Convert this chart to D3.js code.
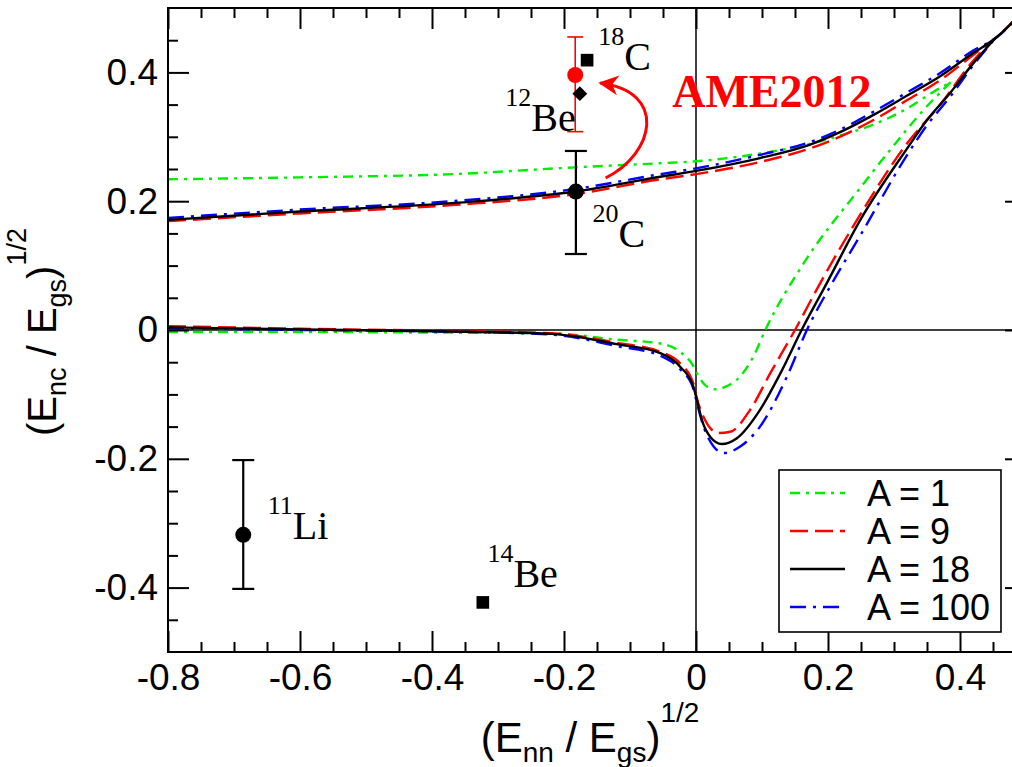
<!DOCTYPE html>
<html>
<head>
<meta charset="utf-8">
<script src="https://cdn.jsdelivr.net/npm/d3@7"></script>
<style>
  body { margin: 0; background: #fff; }
  text { font-family: "Liberation Sans", Arial, Helvetica, sans-serif; }
  .serif { font-family: "Liberation Serif", "Times New Roman", serif; }
</style>
</head>
<body>
<svg id="chart" width="1012" height="767"></svg>
<script>
// ---- values ----
const xTicks = [-0.8, -0.6, -0.4, -0.2, 0, 0.2, 0.4];
const xTickLabels = ['-0.8', '-0.6', '-0.4', '-0.2', '0', '0.2', '0.4'];
const yTicks = [-0.4, -0.2, 0, 0.2, 0.4];
const yTickLabels = ['-0.4', '-0.2', '0', '0.2', '0.4'];

const seriesNames = ['A = 1', 'A = 9', 'A = 18', 'A = 100'];

// upper branches, [x, y]
const upperA1 = [[-0.8,0.234],[-0.6,0.237],[-0.37,0.242],[-0.183,0.2526],[-0.054,0.259],[0,0.262],
  [0.097,0.274],[0.173,0.289],[0.2186,0.302],[0.269,0.319],[0.32,0.344],[0.36,0.37],[0.386,0.385]];
const upperA9 = [[-0.8,0.169],[-0.6,0.181],[-0.37,0.194],[-0.183,0.211],[-0.054,0.234],[0,0.242],
  [0.097,0.261],[0.173,0.282],[0.22,0.301],[0.269,0.326],[0.32,0.357],[0.37,0.388],[0.42,0.427],[0.4535,0.453],[0.5,0.5]];
const upperA18 = [[-0.8,0.171],[-0.6,0.184],[-0.37,0.197],[-0.183,0.215],[-0.054,0.238],[0,0.247],
  [0.097,0.267],[0.173,0.288],[0.22,0.308],[0.269,0.334],[0.32,0.364],[0.37,0.394],[0.42,0.43],[0.4535,0.453],[0.5,0.5]];
const upperA100 = [[-0.8,0.174],[-0.6,0.187],[-0.37,0.200],[-0.183,0.219],[-0.054,0.242],[0,0.251],
  [0.097,0.272],[0.173,0.292],[0.22,0.312],[0.269,0.339],[0.32,0.369],[0.37,0.399],[0.42,0.434],[0.4535,0.453],[0.5,0.5]];

// lower branches, [x, y]
const lowerA1 = [[-0.8,-0.003],[-0.6,-0.003],[-0.4,-0.004],[-0.22,-0.005],[-0.12,-0.015],[-0.054,-0.021],
  [-0.024,-0.034],[-0.004,-0.056],[0.0015,-0.067],[0.0115,-0.083],[0.0217,-0.0905],[0.029,-0.092],[0.045,-0.088],
  [0.067,-0.072],[0.087,-0.041],[0.105,0],[0.163,0.1035],[0.246,0.217],[0.30,0.287],[0.345,0.342],[0.386,0.385]];
const lowerA9 = [[-0.8,0.006],[-0.6,0.002],[-0.4,-0.001],[-0.22,-0.005],[-0.12,-0.02],[-0.054,-0.034],
  [-0.024,-0.052],[-0.004,-0.083],[0.0015,-0.107],[0.0115,-0.135],[0.034,-0.160],[0.052,-0.158],[0.082,-0.124],
  [0.1126,-0.067],[0.150,0],[0.188,0.0725],[0.244,0.171],[0.32,0.29],[0.37,0.35],[0.42,0.418],[0.4535,0.453]];
const lowerA18 = [[-0.8,0.004],[-0.6,0.001],[-0.4,-0.002],[-0.22,-0.006],[-0.12,-0.022],[-0.054,-0.036],
  [-0.024,-0.057],[-0.004,-0.088],[0.0015,-0.109],[0.009,-0.14],[0.0217,-0.166],[0.039,-0.177],[0.062,-0.168],
  [0.097,-0.124],[0.128,-0.067],[0.16,0],[0.198,0.0725],[0.249,0.171],[0.32,0.282],[0.35,0.326],[0.385,0.368],
  [0.42,0.414],[0.4535,0.453]];
const lowerA100 = [[-0.8,0.003],[-0.6,0.0],[-0.4,-0.002],[-0.22,-0.007],[-0.12,-0.025],[-0.054,-0.040],
  [-0.024,-0.061],[-0.004,-0.091],[0.0015,-0.114],[0.0115,-0.150],[0.0267,-0.181],[0.042,-0.191],[0.067,-0.181],
  [0.097,-0.150],[0.138,-0.072],[0.168,0],[0.206,0.0725],[0.249,0.147],[0.32,0.272],[0.35,0.318],[0.385,0.362],
  [0.42,0.411],[0.4535,0.453]];

// experimental points
const circlePoints = [
  {x: -0.182, y: 0.215, lo: 0.118, hi: 0.278},   // 20C
  {x: -0.686, y: -0.318, lo: -0.402, hi: -0.202}  // 11Li
];
const squarePoints = [{x: -0.165, y: 0.419}, {x: -0.323, y: -0.423}]; // 18C, 14Be
const diamondPoints = [{x: -0.176, y: 0.367}];                         // 12Be
const amePoints = [{x: -0.183, y: 0.396, lo: 0.308, hi: 0.455}];      // AME2012

const nucleusLabels = [
  {mass: '18', sym: 'C',  x: -0.148, y: 0.404},
  {mass: '12', sym: 'Be', x: -0.289, y: 0.309},
  {mass: '20', sym: 'C',  x: -0.157, y: 0.129},
  {mass: '11', sym: 'Li', x: -0.649, y: -0.3245},
  {mass: '14', sym: 'Be', x: -0.316, y: -0.399}
];
const arrowPath = [[-0.137, 0.236], [-0.062, 0.275], [-0.043, 0.37], [-0.145, 0.3835]];

// ---- styles ----
const styles = [
  {color: '#00ee00', dash: '10,6,3,6'},
  {color: '#ff0000', dash: '18,7'},
  {color: '#000000', dash: null},
  {color: '#0000ff', dash: '16,7,3,7'}
];
const uppers = [upperA1, upperA9, upperA18, upperA100];
const lowers = [lowerA1, lowerA9, lowerA18, lowerA100];

const svg = d3.select('#chart');
const plot = {x0: 168, y0: 8, w: 858, h: 644};

const x = d3.scaleLinear().domain([-0.8, 0.5]).range([plot.x0, plot.x0 + plot.w]);
const y = d3.scaleLinear().domain([-0.5, 0.5]).range([plot.y0 + plot.h, plot.y0]);

const xMinor = d3.range(-15, 10).filter(i => i % 4 !== 0).map(i => i * 0.05);
const yMinor = d3.range(-9, 10).filter(i => i % 4 !== 0).map(i => i * 0.05);

svg.append('defs').append('clipPath').attr('id', 'clip')
  .append('rect')
  .attr('x', plot.x0).attr('y', plot.y0)
  .attr('width', plot.w).attr('height', plot.h);

// zero lines
svg.append('line')
  .attr('x1', x(0)).attr('x2', x(0)).attr('y1', y(-0.5)).attr('y2', y(0.5))
  .attr('stroke', '#000').attr('stroke-width', 1.5);
svg.append('line')
  .attr('x1', x(-0.8)).attr('x2', x(0.5)).attr('y1', y(0)).attr('y2', y(0))
  .attr('stroke', '#000').attr('stroke-width', 1.5);

// curves
var line = d3.line()
  .x(function(d) { return x(d[0]); })
  .y(function(d) { return y(d[1]); })
  .curve(d3.curveMonotoneX);

var curves = svg.append('g').attr('clip-path', 'url(#clip)');
[0, 1, 3, 2].forEach(function(i) {
  [uppers[i], lowers[i]].forEach(function(branch) {
    curves.append('path')
      .attr('d', line(branch))
      .attr('fill', 'none')
      .attr('stroke', styles[i].color)
      .attr('stroke-width', 2.4)
      .attr('stroke-dasharray', styles[i].dash);
  });
});

// error bars + markers
function errorBars(data, color, cap, sw) {
  var g = svg.append('g').attr('stroke', color).attr('stroke-width', sw);
  data.forEach(function(d) {
    g.append('line').attr('x1', x(d.x)).attr('x2', x(d.x)).attr('y1', y(d.lo)).attr('y2', y(d.hi));
    g.append('line').attr('x1', x(d.x) - cap).attr('x2', x(d.x) + cap).attr('y1', y(d.lo)).attr('y2', y(d.lo));
    g.append('line').attr('x1', x(d.x) - cap).attr('x2', x(d.x) + cap).attr('y1', y(d.hi)).attr('y2', y(d.hi));
  });
}
errorBars(amePoints, '#ff0000', 8, 1.6);
errorBars(circlePoints, '#000', 11, 2.2);

svg.selectAll('.ame').data(amePoints).enter().append('circle')
  .attr('cx', d => x(d.x)).attr('cy', d => y(d.y)).attr('r', 8).attr('fill', '#ff0000');
svg.selectAll('.circ').data(circlePoints).enter().append('circle')
  .attr('cx', d => x(d.x)).attr('cy', d => y(d.y)).attr('r', 8).attr('fill', '#000');
svg.selectAll('.sq').data(squarePoints).enter().append('path')
  .attr('d', d3.symbol(d3.symbolSquare, 160))
  .attr('transform', d => 'translate(' + x(d.x) + ',' + y(d.y) + ')')
  .attr('fill', '#000');
svg.selectAll('.dia').data(diamondPoints).enter().append('path')
  .attr('d', d3.symbol(d3.symbolSquare, 110))
  .attr('transform', d => 'translate(' + x(d.x) + ',' + y(d.y) + ') rotate(45)')
  .attr('fill', '#000');

// nucleus labels
nucleusLabels.forEach(function(d) {
  var t = svg.append('text').attr('class', 'serif')
    .attr('x', x(d.x)).attr('y', y(d.y)).attr('fill', '#000');
  t.append('tspan').attr('font-size', 26).attr('dy', -25).text(d.mass);
  t.append('tspan').attr('font-size', 40).attr('dy', 25).text(d.sym);
});

// AME2012 label and arrow
svg.append('text').attr('class', 'serif')
  .attr('x', x(-0.036)).attr('y', y(0.346))
  .attr('font-size', 46).attr('font-weight', 'bold').attr('fill', '#ff0000')
  .text('AME2012');

svg.select('defs').append('marker')
  .attr('id', 'arrowhead')
  .attr('viewBox', '0 0 10 10')
  .attr('refX', 9).attr('refY', 5)
  .attr('markerWidth', 26).attr('markerHeight', 20)
  .attr('markerUnits', 'userSpaceOnUse')
  .attr('orient', 'auto')
  .append('path').attr('d', 'M0,0 L10,5 L0,10 L3,5 Z').attr('fill', '#ff0000');

var p = arrowPath.map(function(d) { return [x(d[0]), y(d[1])]; });
svg.append('path')
  .attr('d', 'M' + p[0] + 'C' + p[1] + ' ' + p[2] + ' ' + p[3])
  .attr('fill', 'none').attr('stroke', '#ff0000').attr('stroke-width', 3)
  .attr('marker-end', 'url(#arrowhead)');

// axes
function drawAxis(gen, tx, ty) {
  var g = svg.append('g')
    .attr('transform', 'translate(' + tx + ',' + ty + ')')
    .call(gen);
  g.select('.domain').remove();
  g.selectAll('line').attr('stroke', '#000').attr('stroke-width', 2);
  g.attr('font-size', 37).attr('font-family', null);
  g.selectAll('text').attr('fill', '#000');
  return g;
}
var bottomY = plot.y0 + plot.h, rightX = plot.x0 + plot.w;

drawAxis(d3.axisBottom(x).tickValues(xTicks).tickSize(-21).tickPadding(12)
  .tickFormat(d => xTickLabels[xTicks.indexOf(d)]), 0, bottomY);
drawAxis(d3.axisBottom(x).tickValues(xMinor).tickSize(-10).tickFormat(''), 0, bottomY);
drawAxis(d3.axisTop(x).tickValues(xTicks).tickSize(-21).tickFormat(''), 0, plot.y0);
drawAxis(d3.axisTop(x).tickValues(xMinor).tickSize(-10).tickFormat(''), 0, plot.y0);
drawAxis(d3.axisLeft(y).tickValues(yTicks).tickSize(-21).tickPadding(10)
  .tickFormat(d => yTickLabels[yTicks.indexOf(d)]), plot.x0, 0);
drawAxis(d3.axisLeft(y).tickValues(yMinor).tickSize(-10).tickFormat(''), plot.x0, 0);
drawAxis(d3.axisRight(y).tickValues(yTicks).tickSize(-21).tickFormat(''), rightX, 0);
drawAxis(d3.axisRight(y).tickValues(yMinor).tickSize(-10).tickFormat(''), rightX, 0);

svg.append('rect')
  .attr('x', plot.x0).attr('y', plot.y0).attr('width', plot.w).attr('height', plot.h)
  .attr('fill', 'none').attr('stroke', '#000').attr('stroke-width', 2);

// axis titles
function axisTitle(sel, sub, big, small) {
  sel.attr('font-size', big);
  sel.append('tspan').text('(E');
  sel.append('tspan').attr('font-size', small).attr('dy', 10).text(sub);
  sel.append('tspan').attr('dy', -10).text(' / E');
  sel.append('tspan').attr('font-size', small).attr('dy', 10).text('gs');
  sel.append('tspan').attr('dy', -10).text(')');
  sel.append('tspan').attr('font-size', small).attr('dy', -30).text('1/2');
}
axisTitle(svg.append('text')
  .attr('x', 590).attr('y', 752)
  .attr('text-anchor', 'middle'), 'nn', 42, 28);
axisTitle(svg.append('text')
  .attr('transform', 'translate(56,332) rotate(-90)')
  .attr('text-anchor', 'middle'), 'nc', 40, 27);

// legend
var legend = svg.append('g').attr('transform', 'translate(779,470)');
legend.append('rect')
  .attr('width', 222).attr('height', 162)
  .attr('fill', '#fff').attr('stroke', '#000').attr('stroke-width', 1.6);
var items = legend.selectAll('.item').data(seriesNames).enter().append('g')
  .attr('transform', (d, i) => 'translate(0,' + (23 + i * 38) + ')');
items.append('line')
  .attr('x1', 11).attr('x2', 66)
  .attr('stroke', (d, i) => styles[i].color)
  .attr('stroke-width', 2.4)
  .attr('stroke-dasharray', (d, i) => styles[i].dash);
items.append('text')
  .attr('x', 88).attr('dy', '0.36em')
  .attr('font-size', 36).attr('fill', '#000')
  .text(d => d);
</script>
</body>
</html>
